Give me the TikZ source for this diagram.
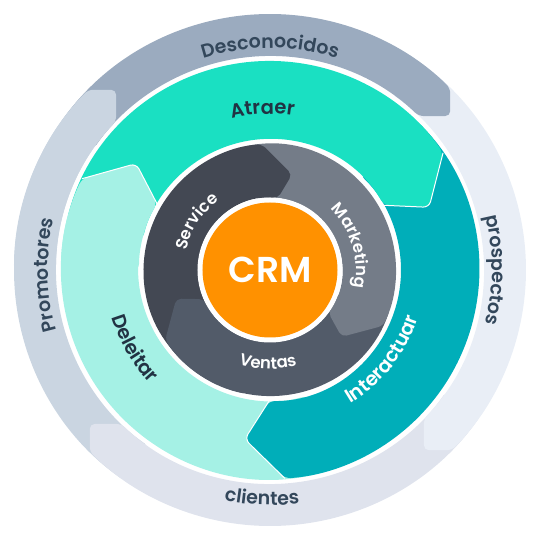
\documentclass[tikz,border=0pt]{standalone}
\usepackage{fontspec}
\setmainfont{Poppins}
\newfontfamily\semib{Poppins SemiBold}
\usetikzlibrary{decorations.text}

\definecolor{unknownc}{HTML}{9BABBF}
\definecolor{prospc}{HTML}{E9EEF6}
\definecolor{clientc}{HTML}{DFE3ED}
\definecolor{promoc}{HTML}{CAD5E1}
\definecolor{attractc}{HTML}{1AE0C2}
\definecolor{engagec}{HTML}{00AEB9}
\definecolor{delightc}{HTML}{A5F1E5}
\definecolor{servicec}{HTML}{434853}
\definecolor{marketc}{HTML}{747C88}
\definecolor{salesc}{HTML}{525B69}
\definecolor{crmc}{HTML}{FF9100}
\definecolor{slatec}{HTML}{33475B}
\definecolor{inkc}{HTML}{213343}

\newcommand{\outerfont}{\semib\fontsize{19}{19}\selectfont}
\newcommand{\midfont}{\semib\fontsize{19.5}{19.5}\selectfont}
\newcommand{\innerfont}{\semib\fontsize{16.5}{16.5}\selectfont}

% one band of a ring: colour, start angle, tip angle
\newcommand{\ringband}[3]{%
  \fill[#1, rounded corners=\tipround] (#2:\bandout) arc[start angle=#2, end angle=#3+\legout, radius=\bandout]
    -- (#3:\bandtip) -- (#3+\legin:\bandin) arc[start angle=#3+\legin, end angle=#2, radius=\bandin] -- cycle;}
\newcommand{\ringedge}[1]{%
  \draw[white, line width=1pt, rounded corners=\tipround] (#1+\legout:\bandout) -- (#1:\bandtip) -- (#1+\legin:\bandin);}

\tikzset{
  ringlabel/.style 2 args={decorate, decoration={text along path, text align=center, text color=#1, text={#2}}}
}

\begin{document}
\begin{tikzpicture}
\useasboundingbox (-270pt,-270pt) rectangle (270pt,270pt);

% outer ring
\def\bandin{214pt}\def\bandout{256pt}\def\bandtip{237pt}\def\legout{4.75}\def\legin{5.5}\def\tipround{5pt}
\ringband{promoc}{235.5}{130.5}
\ringband{clientc}{-34.5}{-139.5}
\ringband{prospc}{55.5}{-49.5}
\ringband{unknownc}{145.5}{40.5}
\ringband{promoc}{180}{130.5}

% middle ring
\def\bandin{131pt}\def\bandout{209pt}\def\bandtip{171pt}\def\legout{12.6}\def\legin{8.1}\def\tipround{6pt}
\ringband{delightc}{286.5}{141.5}
\ringband{engagec}{46.5}{-98.5}
\ringband{attractc}{166.5}{21.5}
\ringband{delightc}{180}{141.5}
\ringedge{141.5}
\ringedge{-98.5}
\ringedge{21.5}

% inner ring
\def\bandin{72pt}\def\bandout{126pt}\def\bandtip{98pt}\def\legout{16.7}\def\legin{6.9}\def\tipround{5pt}
\ringband{salesc}{-18}{-163}
\ringband{marketc}{102}{-43}
\ringband{servicec}{222}{77}
\ringband{salesc}{-100}{-163}

\fill[white] (0,0) circle (72.5pt);
\node[circle, fill=crmc, minimum size=135pt, inner sep=0pt, text=white,
  font=\semib\fontsize{36}{36}\selectfont] (crm) at (0,0) {CRM};

% labels
\path[ringlabel={slatec}{|\outerfont|Desconocidos}] (150:222pt) arc[start angle=150, end angle=30, radius=222pt];
\path[ringlabel={slatec}{|\outerfont|prospectos}] (60:222pt) arc[start angle=60, end angle=-60, radius=222pt];
\path[ringlabel={slatec}{|\outerfont|clientes}] (208:235pt) arc[start angle=208, end angle=328, radius=235pt];
\path[ringlabel={slatec}{|\outerfont|Promotores}] (241.3:222pt) arc[start angle=241.3, end angle=121.3, radius=222pt];

\path[ringlabel={inkc}{|\midfont|Atraer}] (152.7:156pt) arc[start angle=152.7, end angle=32.7, radius=156pt];
\path[ringlabel={white}{|\midfont|Interactuar}] (-98.5:156pt) arc[start angle=-98.5, end angle=21.5, radius=156pt];
\path[ringlabel={inkc}{|\midfont|Deleitar}] (150:165pt) arc[start angle=150, end angle=270, radius=165pt];

\path[ringlabel={white}{|\innerfont|Service}] (206.7:86pt) arc[start angle=206.7, end angle=86.7, radius=86pt];
\path[ringlabel={white}{|\innerfont|Marketing}] (76.8:86pt) arc[start angle=76.8, end angle=-43.2, radius=86pt];
\path[ringlabel={white}{|\innerfont|Ventas}] (208.7:99pt) arc[start angle=208.7, end angle=328.7, radius=99pt];
\end{tikzpicture}
\end{document}
